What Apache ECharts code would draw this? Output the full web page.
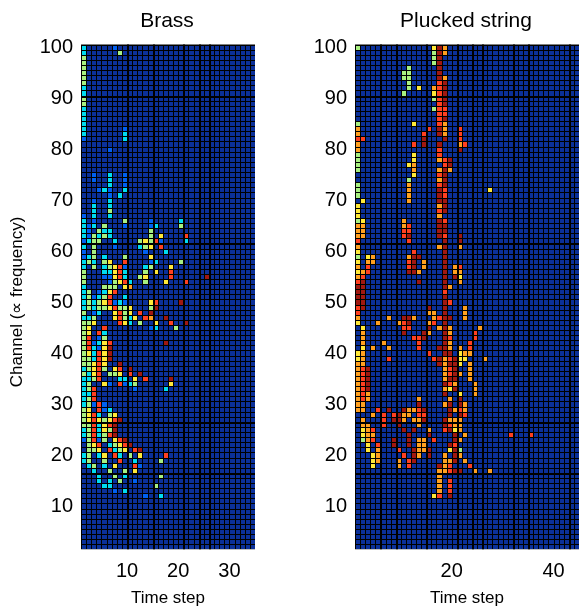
<!DOCTYPE html>
<html><head><meta charset="utf-8">
<style>html,body{margin:0;padding:0;background:#fff}#c{width:579px;height:607px}</style>
<script src="https://cdn.jsdelivr.net/npm/echarts@6/dist/echarts.min.js"></script>
</head><body><div id="c"></div>
<script>
// Each row: channel, then pairs of (time step, level). Missing cells are level 0.
const levelColors = ['#0b3099','#0060f0','#00dcf0','#a8f080','#ffe838','#ffa020','#ff4020','#a01810'];
const brassTitle = 'Brass';
const stringTitle = 'Plucked string';
const brassXTicks = [10,20,30];
const stringXTicks = [20,40];
const channelTicks = [10,20,30,40,50,60,70,80,90,100];
const brassHeavyX = [10,15,21,24,26];
const stringHeavyX = [6,9,15,21,24,26,32,35,43];
const heavyY = [90,61,26,16];
const brassRows = [
[99,1,2,7,1],[98,1,2,8,3],[97,1,3],[96,1,3],[95,1,3],[94,1,3],[93,1,3],[92,1,3],
[91,1,2],[90,1,2],[89,1,3],[88,1,3],[87,1,2],[86,1,2],[85,1,2],[84,1,2],
[83,1,2,9,1],[82,1,2,9,2],[81,1,1,9,2],[79,6,1],
[74,3,1,6,2,9,1],[73,3,1,6,2,9,1],[72,6,2,9,1],[71,4,1,5,2,6,1,9,2],[70,6,1,8,2],
[69,3,1,6,2],[68,3,2,6,2],[67,3,2,6,3],[66,1,1,3,2,6,2],
[65,1,2,3,1,9,3,14,1,20,2],
[64,1,2,2,1,3,2,5,3,9,1,14,1,15,2,20,3],
[63,1,2,2,1,4,3,5,2,6,2,14,3],
[62,1,2,2,1,3,3,4,2,5,3,6,2,14,3,16,4,21,6],
[61,1,1,2,2,3,3,4,3,7,2,12,3,13,4,14,3,15,6,16,1,21,2],
[60,1,2,3,3,7,1,12,2,13,3,14,4,16,6],
[59,1,1,3,3,13,1,17,2],
[58,1,1,2,2,3,3,5,2,9,3,14,4],
[57,1,2,2,3,3,2,5,3,6,4,9,6,14,1,15,2,20,3],
[56,1,2,3,3,5,2,6,3,7,4,8,6,9,1,13,2,14,3,18,4],
[55,1,3,5,2,6,2,7,4,8,6,9,2,13,3,15,4,18,6],
[54,1,3,5,1,6,1,7,4,8,6,9,2,12,3,13,4,18,6,25,7],
[53,1,3,6,1,7,3,8,4,9,6,10,2,13,3,17,4,21,6],
[52,1,2,5,3,6,3,7,3,9,4,10,5],
[51,1,2,2,3,4,1,5,2,6,4,7,6],
[50,1,2,2,3,3,1,4,2,5,3,6,6,9,2],
[49,1,2,2,3,3,2,4,3,5,4,6,6,7,1,8,2,9,1,14,4,15,6,20,7],
[48,1,2,2,3,3,2,4,3,5,3,6,4,7,6,8,3,9,3,10,4,14,3,15,7],
[47,1,3,3,1,4,2,7,4,8,6,9,3,10,4,12,6,14,7],
[46,1,2,2,2,3,3,7,4,8,6,9,3,10,2,11,4,13,6,14,5,17,7],
[45,1,3,2,3,3,4,8,6,9,4,10,2,12,3,15,4,18,6,21,7],
[44,1,3,2,4,5,6,14,1,15,2,19,3],
[43,1,3,2,4,4,6,5,2],
[42,1,3,2,6,4,1,5,3],
[41,1,3,2,6,3,1,4,2,5,4,6,6,17,7],
[40,1,3,2,6,3,2,4,1,5,4,6,7],
[39,1,3,2,4,3,2,4,6,5,4,6,7],
[38,1,3,2,3,3,2,4,6,5,4,6,7],
[37,1,3,2,3,3,4,4,6,5,4,8,7],
[36,1,2,2,3,3,4,4,6,5,3,7,4,8,6,10,7],
[35,1,3,2,2,3,4,4,6,6,3,7,3,8,4,10,6,12,7],
[34,1,2,2,2,3,3,4,6,8,2,9,2,11,4,13,6,18,7],
[33,1,2,2,3,5,4,6,1,8,6,9,1,10,2,11,3,18,4],
[32,1,2,2,3,3,6,11,1,17,2],
[31,1,2,2,2,3,6],[30,1,2,2,3,3,6],
[29,1,2,2,3,3,1,4,6,5,1],
[28,1,3,2,4,4,6,5,1,6,2],
[27,1,3,2,4,3,6,4,2,6,3,7,4],
[26,1,3,2,4,3,6,4,4,5,3,6,4,7,6,8,7],
[25,1,3,2,3,3,6,4,2,5,4,6,6,7,7],
[24,1,2,2,3,3,6,4,2,5,4,6,3,7,7],
[23,1,2,2,3,3,6,4,2,5,3,6,6,7,7],
[22,1,1,2,3,3,6,4,1,5,3,7,4,8,6,9,7],
[21,2,3,3,4,4,6,6,2,7,3,8,4,9,6,10,7],
[20,2,3,3,3,4,4,6,6,7,2,8,3,9,4,11,6,12,7],
[19,1,2,2,3,4,2,5,4,7,6,8,2,10,3,12,4,17,6],
[18,1,2,2,3,5,3,8,6,11,2,16,3],
[17,2,2,3,3,5,2,7,4,11,6,12,1],
[16,3,2,6,3,9,3,11,4],
[15,4,2,7,3,9,2,16,3],
[14,4,2,6,2,8,3,11,1],
[13,5,2,6,2,15,3],
[12,7,1,9,2],
[11,13,1,16,2]
];
const stringRows = [
[99,1,3,16,4,17,7,18,5],[98,16,3,17,7,18,5],[97,16,3,17,7],[96,16,3,17,7],
[95,11,3,17,7],[94,10,3,11,3,17,7],[93,10,3,11,3,17,7,18,5],[92,11,3,17,6,18,7],
[91,11,3,13,4,16,5,17,6,18,7],[90,10,3,16,4,17,6,18,7],[89,16,3,17,6,18,7],[88,17,6,18,7],
[87,16,3,17,6,18,6],[86,17,6,18,6],[85,17,6,18,7],[84,1,3,12,4,17,6,18,5],
[83,1,5,15,6,17,7,18,5,21,6],[82,1,5,14,6,17,7,18,5,21,6],[81,1,6,2,6,14,7,18,7,21,6],
[80,1,5,12,6,14,7,17,7,21,5,22,6],[79,1,5,17,6,21,7],[78,1,3,12,4,17,6],
[77,1,3,12,4,17,5,18,6,19,7],[76,1,3,11,4,12,5,18,6,19,7],[75,1,3,12,5,17,5,18,7,19,5],
[74,12,4,17,6,18,7],[73,11,3,17,5,18,7],[72,1,3,11,5,17,6,18,7],
[71,1,3,11,5,17,7,18,6,27,4],[70,1,3,11,5,17,7,18,6],[69,2,4,11,5,17,7,18,7],
[68,1,4,17,5,18,7],[67,1,4,17,6,18,7],[66,1,4,17,5],[65,1,3,2,4,10,5,17,7,18,6],
[64,1,5,2,5,10,5,11,6,17,7,18,7],[63,1,5,2,5,10,6,11,6,17,7,18,7],
[62,1,5,2,5,10,6,11,7,17,7,18,6,21,7],[61,1,6,11,6,18,7,21,7],[60,1,5,17,5,18,7,21,5],
[59,1,4,12,6,18,7],[58,1,3,3,4,4,5,11,5,12,7,13,7,18,7],
[57,1,4,3,5,4,5,11,6,12,7,14,5,18,7],[56,1,5,3,6,11,6,12,7,14,5,18,7,20,5,21,6],
[55,1,4,2,5,3,6,11,7,12,7,13,5,18,7,20,5,21,5],[54,1,5,2,6,18,7,20,7,21,4],
[53,1,6,2,7,13,7,18,7,21,5],[52,1,7,2,7,18,7,19,5],[51,1,7,2,7,18,6],[50,1,7,2,7,18,7],
[49,1,7,2,7,18,7,19,6],[48,1,6,2,7,15,7,18,7,22,5],[47,1,6,15,5,16,5,18,7,22,5],
[46,1,5,7,5,10,7,11,7,12,5,16,5,17,6,18,7,19,7,22,5],
[45,1,4,5,5,9,5,10,6,11,7,15,5,16,6,18,7],
[44,2,4,10,6,11,6,15,7,17,5,18,7,19,5,25,5],
[43,2,5,10,7,14,7,15,5,18,7,19,5,24,6],[42,2,5,12,6,13,6,14,7,18,7,19,6,24,6],
[41,2,5,6,5,13,6,18,7,19,5,23,6],[40,2,4,4,5,7,5,13,6,17,7,18,7,19,5,21,5,23,6],
[39,1,4,2,5,15,6,18,7,19,7,21,4,22,5,23,5],
[38,1,4,2,5,7,6,16,6,17,7,18,5,19,6,20,7,21,4,22,4,26,5],
[37,1,5,2,5,17,7,18,5,19,7,20,7,21,4,23,5],[36,1,5,2,6,3,7,18,5,19,6,20,7,23,5],
[35,1,5,2,6,3,7,18,5,19,6,20,7,21,5,23,5],[34,1,5,2,6,3,7,18,5,19,7,20,7,23,5],
[33,1,5,2,6,3,7,18,7,19,6,20,5,24,5],[32,1,5,2,6,3,7,18,5,19,4,20,7,24,5],
[31,1,5,2,6,3,5,18,7,21,4,24,5],[30,1,5,2,6,3,5,13,5,19,5,21,7],
[29,1,5,2,5,13,7,18,5,19,7,21,7,22,5],
[28,1,5,2,5,5,6,7,7,10,7,11,5,12,5,13,6,14,7,19,7,20,5,21,6,22,5],
[27,4,5,6,6,8,6,9,7,10,5,11,5,13,6,14,6,19,7,21,7,22,6],
[26,2,5,6,6,8,7,9,7,10,5,12,5,13,5,14,7,18,7,19,5,20,5,21,5],
[25,2,5,3,5,6,6,9,7,13,5,18,7,19,6,20,5,21,5],
[24,2,4,3,5,4,6,10,7,12,7,15,5,18,6,19,7,20,4,21,5],
[23,2,4,3,5,4,5,11,7,15,7,20,7,22,5,31,6,35,6],
[22,2,3,3,5,4,6,8,7,11,7,13,5,14,5,16,6,20,7,21,5],
[21,3,4,5,6,8,7,11,7,13,5,14,5,19,7,20,6],
[20,3,4,5,5,9,6,12,7,13,5,14,5,15,7,19,4,20,7,21,3],
[19,4,4,5,5,10,6,12,7,13,5,15,7,18,5,20,7,21,5],
[18,4,4,5,5,9,5,11,6,12,7,18,5,19,5,20,7,22,5],
[17,4,4,9,5,11,6,17,7,18,5,19,6,23,6],
[16,17,5,18,5,19,6,20,7,21,7,24,5,27,5],
[15,17,5],[14,17,5,19,6],[13,17,5,19,6],[12,17,5,19,6],[11,16,4,17,6,19,7]
];

function cells(rows, colCount){
  const grid = {};
  rows.forEach(r=>{ for(let i=1;i<r.length;i+=2) grid[r[0]+'_'+r[i]] = r[i+1]; });
  const out = [];
  for(let ch=1;ch<100;ch++) for(let t=1;t<=colCount;t++) out.push([t,ch,grid[ch+'_'+t]||0]);
  return out;
}
function renderCell(params, api){
  const a = api.coord([api.value(0), api.value(1)+1]);
  const b = api.coord([api.value(0)+1, api.value(1)]);
  const x0=Math.round(a[0]), x1=Math.round(b[0]), y0=Math.round(a[1]), y1=Math.round(b[1]);
  return {type:'rect', shape:{x:x0+1,y:y0+1,width:x1-x0-1,height:y1-y0-1},
          style:{fill:levelColors[api.value(2)]}};
}
function heavyVertical(params, api){
  const a=api.coord([api.value(0),1]), b=api.coord([api.value(0),100]);
  const x=Math.round(a[0]);
  return {type:'rect',shape:{x:x,y:b[1],width:2,height:a[1]-b[1]},style:{fill:'#000'}};
}
function heavyHorizontal(xMax){ return function(params, api){
  const a=api.coord([1,api.value(0)]), b=api.coord([xMax,api.value(0)]);
  const y=Math.round(a[1]);
  return {type:'rect',shape:{x:a[0],y:y,width:b[0]-a[0],height:2},style:{fill:'#000'}};
};}
const font = 'Liberation Sans, Helvetica, Arial, sans-serif';
function xAxis(idx,max,ticks){ return {
  gridIndex:idx,type:'value',min:1,max:max,
  axisLine:{show:false},axisTick:{show:false},splitLine:{show:false},
  axisLabel:{customValues:ticks,color:'#000',fontSize:20,fontFamily:font,margin:12,showMinLabel:true,showMaxLabel:true},
  name:'Time step',nameLocation:'middle',nameGap:41,
  nameTextStyle:{color:'#000',fontSize:17,fontFamily:font}
};}
function yAxis(idx,named){ return {
  gridIndex:idx,type:'value',min:1,max:100,
  axisLine:{show:false},axisTick:{show:false},splitLine:{show:false},
  axisLabel:{customValues:channelTicks,color:'#000',fontSize:20,fontFamily:font,margin:8,
    formatter:'{n|{value}}',
    rich:{n:{color:'#000',fontSize:20,fontFamily:font,lineHeight:20,padding:[6,0,0,0]}}},
  name:named?'Channel (\u221D frequency)':'',nameLocation:'middle',nameGap:55,
  nameTextStyle:{color:'#000',fontSize:17,fontFamily:font,padding:[0,10,0,0]}
};}
const chart = echarts.init(document.getElementById('c'),null,{renderer:'canvas'});
const heavySeries=(xi,arr,fn)=>({type:'custom',xAxisIndex:xi,yAxisIndex:xi,silent:true,animation:false,z:5,clip:false,
  data:arr.map(v=>[v]),encode:{x:[],y:[]},renderItem:fn});
chart.setOption({
  animation:false,
  backgroundColor:'#fff',
  title:[
    {text:brassTitle,left:162,top:6,textAlign:'center',textStyle:{color:'#000',fontSize:21,fontWeight:'normal',fontFamily:font}},
    {text:stringTitle,left:461,top:6,textAlign:'center',textStyle:{color:'#000',fontSize:21,fontWeight:'normal',fontFamily:font}}
  ],
  grid:[
    {left:81,top:44.6,width:174,height:504.7,show:true,backgroundColor:'#000',borderWidth:0,outerBoundsMode:'none'},
    {left:355,top:44.6,width:224,height:504.7,show:true,backgroundColor:'#000',borderWidth:0,outerBoundsMode:'none'}
  ],
  xAxis:[xAxis(0,35,brassXTicks),xAxis(1,45,stringXTicks)],
  yAxis:[yAxis(0,true),yAxis(1,false)],
  series:[
    {type:'custom',xAxisIndex:0,yAxisIndex:0,silent:true,animation:false,data:cells(brassRows,34),encode:{x:0,y:1},renderItem:renderCell},
    {type:'custom',xAxisIndex:1,yAxisIndex:1,silent:true,animation:false,data:cells(stringRows,44),encode:{x:0,y:1},renderItem:renderCell},
    heavySeries(0,brassHeavyX,heavyVertical),
    heavySeries(1,stringHeavyX,heavyVertical),
    heavySeries(0,heavyY,heavyHorizontal(35)),
    heavySeries(1,heavyY,heavyHorizontal(45))
  ]
});
</script></body></html>
